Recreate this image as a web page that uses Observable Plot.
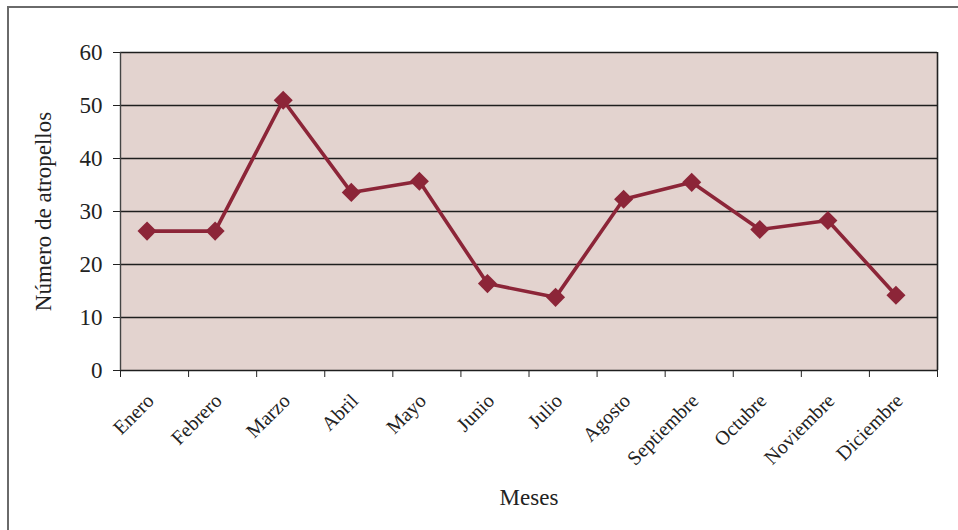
<!DOCTYPE html>
<html>
<head>
<meta charset="utf-8">
<script src="https://cdn.jsdelivr.net/npm/d3@7"></script>
<script src="https://cdn.jsdelivr.net/npm/@observablehq/plot@0.6"></script>
<style>
  body { margin: 0; background: #fff; }
  #wrap { position: relative; width: 958px; height: 530px; }
  #border { position: absolute; left: 7px; top: 6px; right: 0; bottom: 0;
            border-left: 2px solid #6a6a6a; border-top: 2px solid #6a6a6a; pointer-events: none; }
  svg, svg text { font-family: "Liberation Serif", "Times New Roman", serif !important; }
</style>
</head>
<body>
<div id="wrap"><div id="border"></div></div>
<script>
const months = ["Enero","Febrero","Marzo","Abril","Mayo","Junio","Julio","Agosto","Septiembre","Octubre","Noviembre","Diciembre"];
const values = [26.3, 26.3, 51.0, 33.6, 35.7, 16.4, 13.8, 32.3, 35.5, 26.6, 28.3, 14.2];
const yTicks = [0, 10, 20, 30, 40, 50, 60];

const data = months.map((m, i) => ({month: m, idx: i + 0.5, value: values[i]}));
const lineColor = "#8c2538";

const chart = Plot.plot({
  width: 958,
  height: 530,
  marginLeft: 120,
  marginRight: 21,
  marginTop: 52,
  marginBottom: 160,
  style: {background: "transparent", color: "#222"},
  x: {type: "linear", domain: [0, months.length]},
  y: {domain: [0, 60]},
  marks: [
    Plot.frame({fill: "#e3d3cf", stroke: null}),
    Plot.gridY(yTicks, {stroke: "#1e1e1e", strokeOpacity: 1, strokeWidth: 1.4}),
    Plot.ruleX([0], {stroke: "#444", strokeWidth: 1.4}),
    Plot.ruleX([months.length], {stroke: "#222", strokeWidth: 1.6}),
    Plot.axisY(yTicks, {
      tickSize: 7, tickPadding: 11, fontSize: 23, stroke: "#222",
      label: "Número de atropellos", labelAnchor: "center", labelArrow: "none", labelOffset: 86
    }),
    Plot.axisX(d3.range(months.length + 1), {
      tickSize: 7, tickFormat: () => "", stroke: "#222", label: null
    }),
    Plot.axisX(data.map(d => d.idx), {
      tickSize: 0, tickPadding: 27, tickRotate: -45, fontSize: 20, dx: -4,
      tickFormat: (d) => months[Math.floor(d)],
      label: null
    }),
    Plot.axisX(data.map(d => d.idx), {
      tickSize: 0, tickFormat: () => "",
      label: "Meses", labelAnchor: "center", labelArrow: "none", labelOffset: 134
    }),
    Plot.line(data, {x: "idx", y: "value", stroke: lineColor, strokeWidth: 3.6, dx: -7.5}),
    Plot.dot(data, {x: "idx", y: "value", symbol: "diamond2", r: 8.6, fill: lineColor, stroke: null, dx: -7.5})
  ]
});
chart.querySelectorAll('[aria-label="x-axis label"] text, [aria-label="y-axis label"] text').forEach(t => t.setAttribute("font-size", 23));
document.getElementById("wrap").prepend(chart);
</script>
</body>
</html>
